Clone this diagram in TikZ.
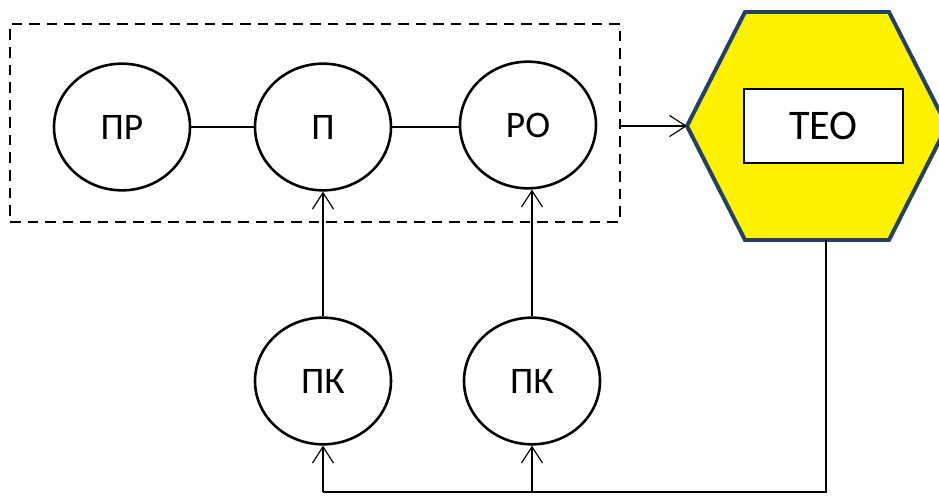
\documentclass[tikz,border=0pt]{standalone}
\usepackage{fontspec}
\setmainfont{Carlito}
\usetikzlibrary{arrows.meta,shapes.geometric}
\definecolor{hexblue}{RGB}{36,64,98}
\tikzset{
  unit/.style={draw, ellipse, line width=2.2pt, minimum width=4.08cm, minimum height=3.8cm, font=\fontsize{32}{36}\selectfont},
  link/.style={line width=1pt},
  arr/.style={line width=1pt, -{Straight Barb[length=14pt,width=18pt]}}
}
\begin{document}
\begin{tikzpicture}[x=0.03cm, y=-0.03cm]
            \clip (0,0) rectangle (939,495);
            \fill[white] (0,0) rectangle (939,495);
            % dashed group
            \node (grp) [draw, dashed, dash pattern=on 9pt off 6pt, line width=1.6pt, minimum width=18.3cm, minimum height=5.94cm] at (315,123) {};
            \node (pr) [unit] at (122,127) {ПР};
            \node (p)  [unit] at (323,127) {П};
            \node (ro) [unit] at (528,125) {РО};
            \node (pk1) [unit] at (323,381) {ПК};
            \node (pk2) [unit] at (532,381) {ПК};
            \draw[link] (pr) -- (p);
            \draw[link] (p) -- (ro.west |- p);
            \draw[arr] (pk1) -- (p);
            \draw[arr] (pk2) -- (ro.south -| pk2.north);
            % hexagon
            \coordinate (hexL) at (687,126);
            \coordinate (hexB) at (826,240);
            \draw[line width=3.4pt, draw=hexblue, fill=yellow, line join=miter]
                (745,12) -- (889,12) -- (947,126) -- (889,240) -- (745,240) -- (hexL) -- cycle;
            \node (teo) [draw, fill=white, line width=1pt, minimum width=4.77cm, minimum height=2.22cm, font=\fontsize{36}{40}\selectfont] at (823.5,126) {ТЕО};
            \draw[arr] (grp.east |- hexL) -- (hexL);
            % feedback
            \coordinate (low) at (826,492);
            \draw[link] (hexB) -- (low) -- (low -| pk1.south);
            \draw[arr] (low -| pk1.south) -- (pk1.south);
            \draw[arr] (low -| pk2.south) -- (pk2.south);
\end{tikzpicture}
\end{document}
